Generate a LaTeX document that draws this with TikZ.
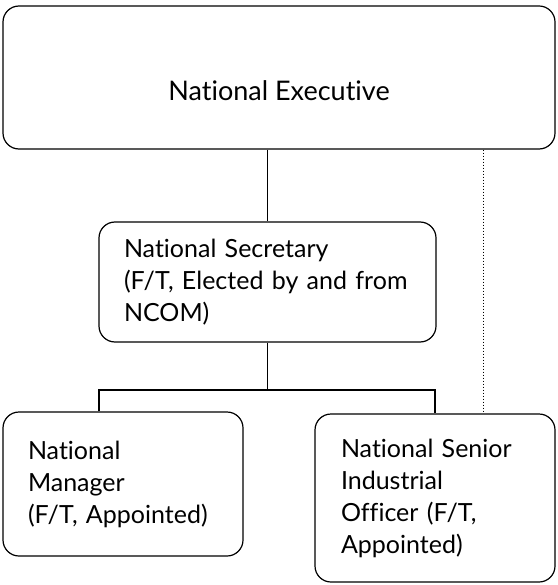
\documentclass[tikz,border=0pt]{standalone}
\usepackage{fontspec}
\setmainfont{Lato}[Ligatures=NoCommon]
\usepackage{tikz}

\tikzset{
	orgbox/.style={draw=black, line width=1.2pt, rounded corners=16pt, align=left, inner sep=0pt, font=\fontsize{25}{32}\selectfont},
	link/.style={line width=1.6pt},
	dotlink/.style={line width=1pt, dotted},
}

\begin{document}
\begin{tikzpicture}[x=1pt, y=-1pt]
			\useasboundingbox (0,0) rectangle (557,585);
			
			\node[orgbox, minimum width=552pt, minimum height=143pt, text height=46pt, text depth=0pt, font=\fontsize{27}{32}\selectfont] (exec) at (279, 77.5) {National Executive};
			\node[orgbox, minimum width=337pt, minimum height=120pt, text width=287pt] (sec) at (267.5, 282) {National Secretary\\(F/T, Elected by and from\\NCOM)};
			\node[orgbox, minimum width=240pt, minimum height=144pt, text width=190pt] (mgr) at (123, 484) {National\\Manager\\(F/T, Appointed)};
			\node[orgbox, minimum width=240pt, minimum height=168pt, text width=188pt] (nsio) at (435, 498) {National Senior\\Industrial\\Officer (F/T,\\Appointed)};
			
			\coordinate (split) at (267.5, 390);
			
			\draw[link] (sec.north |- exec.south) -- (sec.north);
			\draw[link] (sec.south) -- (split);
			\draw[link] ([xshift=-24pt]mgr.north) |- (split) -| (nsio.north);
			\draw[dotlink] ([xshift=48pt]nsio.north |- exec.south) -- ([xshift=48pt]nsio.north);
		\end{tikzpicture}
\end{document}
